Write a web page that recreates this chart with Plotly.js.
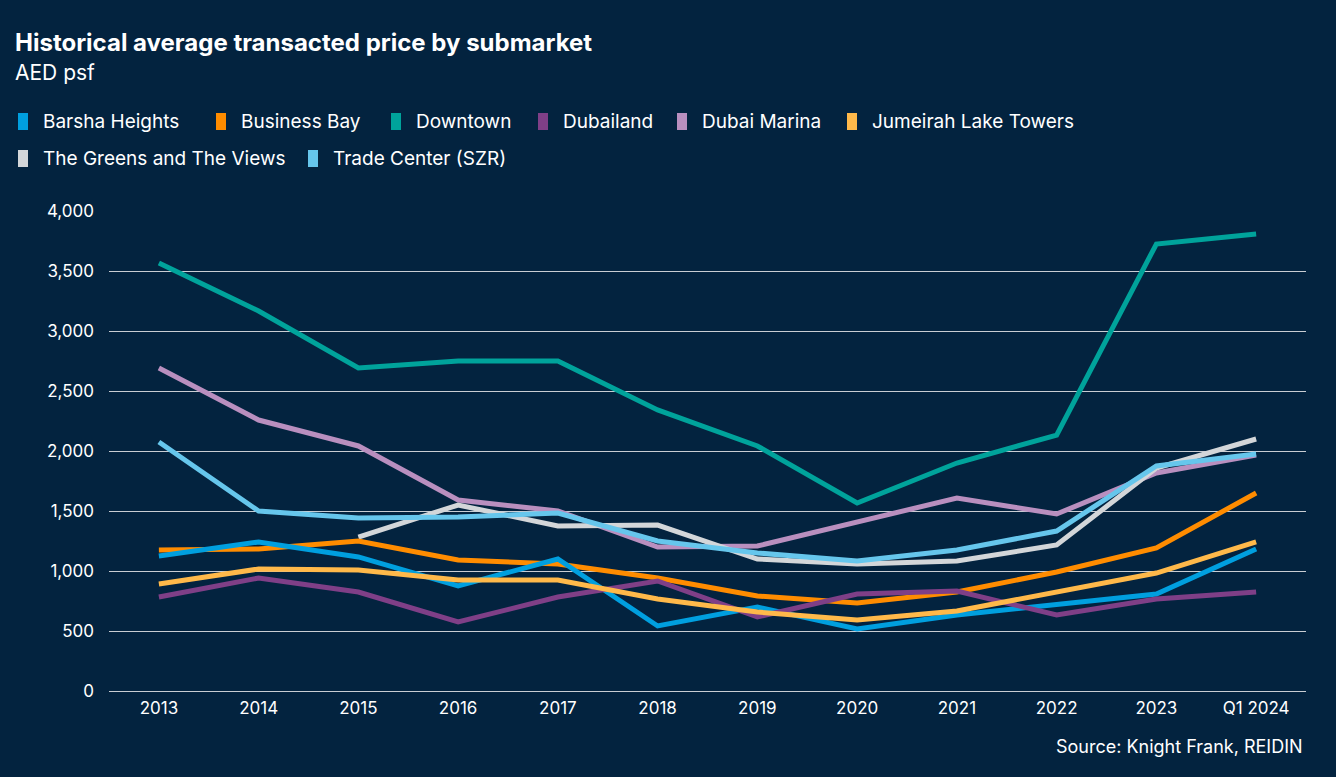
<!DOCTYPE html>
<html>
<head>
<meta charset="utf-8">
<script src="https://cdn.plot.ly/plotly-3.0.1.min.js"></script>
<style>html,body{margin:0;padding:0;background:#03233f;}#chart{width:1336px;height:777px;}</style>
</head>
<body>
<div id="chart"></div>
<script>
const categories = ["2013","2014","2015","2016","2017","2018","2019","2020","2021","2022","2023","Q1 2024"];
const barshaHeights = [1125,1242,1117,875,1100,542,700,517,633,725,808,1183];
const businessBay = [1175,1183,1250,1092,1058,942,792,733,825,992,1192,1650];
const downtown = [3567,3167,2692,2750,2750,2342,2042,1567,1900,2133,3725,3808];
const dubailand = [783,942,825,575,783,917,617,808,833,633,767,825];
const dubaiMarina = [2692,2258,2042,1592,1500,1200,1208,1408,1608,1475,1817,1967];
const jlt = [892,1017,1008,925,925,767,658,592,667,825,983,1242];
const greens = [null,null,1283,1550,1375,1383,1100,1058,1083,1217,1858,2100];
const tradeCenter = [2075,1500,1442,1450,1483,1250,1150,1083,1175,1333,1875,1975];
const yTicks = [0,500,1000,1500,2000,2500,3000,3500,4000];

const seriesNames = ["Barsha Heights","Business Bay","Downtown","Dubailand","Dubai Marina","Jumeirah Lake Towers","The Greens and The Views","Trade Center (SZR)"];
const seriesValues = [barshaHeights,businessBay,downtown,dubailand,dubaiMarina,jlt,greens,tradeCenter];
const colors = ["#009fdf","#ff8c00","#00a39b","#7f3f87","#b98fbf","#ffb94a","#d3d6d9","#66c6ec"];
const drawOrder = [2,4,6,7,1,0,3,5];

const traces = drawOrder.map(i => ({
  type: "scatter", mode: "lines", name: seriesNames[i],
  x: categories, y: seriesValues[i],
  line: {color: colors[i], width: 5, shape: "linear"},
  showlegend: false, hoverinfo: "x+y+name"
}));

const FONT = "Inter, 'Noto Sans', sans-serif";
const W = 1336, H = 777;
const legendPos = [[18,121],[216,121],[391,121],[538,121],[677,121],[847,121],[18,158],[308,158]];
const shapes = [], annotations = [];
legendPos.forEach((p,i) => {
  shapes.push({type:"rect", xref:"paper", yref:"paper", layer:"above",
    x0:(p[0]-109)/1197, x1:(p[0]+10-109)/1197,
    y0:(691-(p[1]+9))/480, y1:(691-(p[1]-8))/480,
    fillcolor: colors[i], line:{width:0}});
  annotations.push({xref:"paper", yref:"paper", x:(p[0]+23-109)/1197, y:(691-p[1])/480,
    xanchor:"left", yanchor:"middle", showarrow:false, text: seriesNames[i],
    font:{family:FONT, size:19, color:"#ffffff"}});
});
annotations.push({xref:"paper", yref:"paper", x:(13-109)/1197, y:(691-42)/480, xanchor:"left", yanchor:"middle", showarrow:false,
  text:"<b>Historical average transacted price by submarket</b>", font:{family:FONT, size:24, color:"#ffffff"}});
annotations.push({xref:"paper", yref:"paper", x:(13-109)/1197, y:(691-72)/480, xanchor:"left", yanchor:"middle", showarrow:false,
  text:"AED psf", font:{family:FONT, size:21, color:"#ffffff"}});
annotations.push({xref:"paper", yref:"paper", x:(1305-109)/1197, y:(691-746)/480, xanchor:"right", yanchor:"middle", showarrow:false,
  text:"Source: Knight Frank, REIDIN", font:{family:FONT, size:18, color:"#ffffff"}});

const layout = {
  width: W, height: H,
  paper_bgcolor: "#03233f", plot_bgcolor: "#03233f",
  margin: {l:109, r:30, t:211, b:86, pad:0},
  showlegend: false,
  font: {family:FONT, color:"#ffffff", size:17},
  xaxis: {type:"category", range:[-0.5, 11.5], showgrid:false, zeroline:false, showline:false,
    ticks:"", tickfont:{size:17, color:"#ffffff"}, ticklabelstandoff:5, fixedrange:true},
  yaxis: {range:[0,4000], tickvals:yTicks, ticktext: yTicks.map(v => v.toLocaleString("en-US")),
    showgrid:true, gridcolor:"#c9cdd3", gridwidth:1, zeroline:true, zerolinecolor:"#c9cdd3", zerolinewidth:1, showline:false,
    ticks:"", tickfont:{size:17, color:"#ffffff"}, ticklabelstandoff:14, fixedrange:true},
  shapes: shapes, annotations: annotations
};
Plotly.newPlot("chart", traces, layout, {displayModeBar:false, staticPlot:true});
</script>
</body>
</html>
